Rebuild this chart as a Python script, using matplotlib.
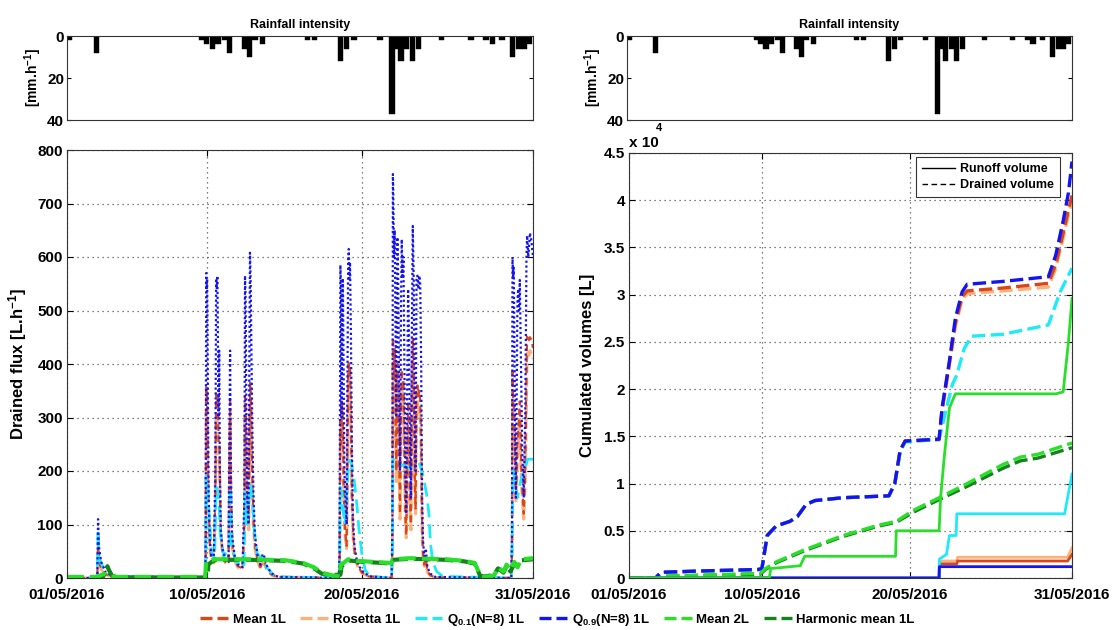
import matplotlib
matplotlib.use("Agg")
import matplotlib.pyplot as plt
from matplotlib.lines import Line2D
import numpy as np

plt.rcParams['font.family'] = ['Liberation Sans', 'DejaVu Sans']
plt.rcParams['font.weight'] = 'bold'
plt.rcParams['mathtext.fontset'] = 'custom'
plt.rcParams['mathtext.rm'] = 'Liberation Sans:bold'
plt.rcParams['mathtext.bf'] = 'Liberation Sans:bold'
plt.rcParams['mathtext.default'] = 'bf'

# ---------------- data ----------------
# rainfall (day of May, mm/h)
rain_day = [1.0, 2.75, 9.53, 9.8, 10.2, 10.56, 10.95, 11.3, 12.24, 12.59, 12.93, 13.4,
            16.3, 16.77, 18.43, 18.84, 19.3, 20.98, 21.76, 22.1, 22.33, 22.7, 23.05,
            23.44, 24.93, 26.84, 27.8, 28.2, 28.84, 29.53, 29.92, 30.26, 30.6]
rain_mm = [2, 8, 2, 4, 6, 4, 2, 8, 6, 10, 2, 4,
           2, 2, 12, 6, 2, 2, 37, 6, 12, 6, 12,
           6, 2, 2, 2, 4, 2, 10, 6, 6, 4]

tick_days = [1, 10, 20, 31]
tick_labels = ['01/05/2016', '10/05/2016', '20/05/2016', '31/05/2016']

# drained flux [L/h] : (day, value)
flux_q09 = [(1.0, 0), (2.95, 0), (3.0, 110), (3.05, 60), (3.2, 30), (3.5, 10), (4.0, 3), (9.9, 1),
            (9.93, 80), (9.96, 570), (9.99, 540), (10.02, 560), (10.05, 450), (10.08, 300), (10.12, 150),
            (10.2, 70), (10.3, 40), (10.45, 35), (10.55, 200), (10.6, 560), (10.64, 540), (10.68, 565),
            (10.72, 420), (10.76, 300), (10.8, 425), (10.84, 200), (10.9, 90), (11.0, 55), (11.2, 35),
            (11.4, 30), (11.45, 250), (11.5, 425), (11.55, 200), (11.62, 80), (11.8, 40), (12.0, 25),
            (12.3, 20), (12.42, 150), (12.46, 565), (12.5, 520), (12.55, 300), (12.6, 150), (12.68, 100),
            (12.74, 400), (12.78, 608), (12.82, 560), (12.86, 450), (12.92, 300), (13.0, 160), (13.1, 80),
            (13.25, 45), (13.45, 25), (13.6, 45), (13.7, 40), (13.9, 20), (14.2, 8), (14.6, 2), (18.5, 0),
            (18.55, 50), (18.6, 585), (18.64, 540), (18.68, 300), (18.72, 480), (18.76, 560), (18.8, 420),
            (18.86, 200), (18.92, 150), (19.0, 100), (19.05, 350), (19.1, 590), (19.14, 615), (19.18, 560),
            (19.22, 590), (19.28, 450), (19.34, 250), (19.4, 120), (19.5, 60), (19.65, 35), (19.85, 20),
            (20.1, 10), (20.5, 3), (21.9, 0),
            (21.95, 100), (21.98, 755), (22.0, 730), (22.05, 600), (22.1, 650), (22.15, 450), (22.2, 300),
            (22.24, 550), (22.27, 637), (22.32, 560), (22.38, 350), (22.44, 200), (22.5, 500), (22.55, 633),
            (22.6, 560), (22.66, 600), (22.72, 400), (22.78, 200), (22.84, 120), (22.9, 350), (22.96, 540),
            (23.02, 450), (23.08, 250), (23.14, 150), (23.2, 450), (23.26, 658), (23.32, 560), (23.38, 300),
            (23.44, 200), (23.5, 560), (23.56, 565), (23.62, 540), (23.68, 565), (23.74, 550), (23.8, 400),
            (23.86, 150), (23.92, 70), (24.0, 40), (24.1, 55), (24.2, 20), (24.4, 8), (24.7, 2), (29.6, 0),
            (29.65, 80), (29.68, 600), (29.72, 560), (29.76, 580), (29.8, 450), (29.85, 250), (29.9, 150),
            (29.95, 350), (30.0, 520), (30.05, 540), (30.1, 500), (30.15, 557), (30.2, 450), (30.3, 250),
            (30.4, 150), (30.5, 300), (30.58, 600), (30.62, 640), (30.7, 600), (30.8, 645), (30.9, 630),
            (31.0, 600)]

flux_mean1 = [(1.0, 0), (2.95, 0), (3.0, 60), (3.1, 25), (3.4, 8), (4.0, 2), (9.9, 0),
              (9.93, 40), (9.96, 360), (9.99, 330), (10.02, 345), (10.06, 250), (10.1, 150), (10.2, 60),
              (10.3, 35), (10.45, 30), (10.55, 150), (10.6, 345), (10.65, 320), (10.7, 340), (10.76, 250),
              (10.82, 250), (10.88, 100), (11.0, 50), (11.2, 30), (11.4, 28), (11.45, 200), (11.5, 330),
              (11.56, 150), (11.65, 60), (11.8, 35), (12.0, 22), (12.3, 18), (12.42, 100), (12.46, 340),
              (12.52, 300), (12.6, 120), (12.7, 100), (12.76, 300), (12.8, 365), (12.85, 330), (12.92, 200),
              (13.0, 110), (13.1, 60), (13.25, 35), (13.45, 20), (13.6, 30), (13.7, 30), (13.9, 15),
              (14.2, 6), (14.6, 2), (18.5, 0),
              (18.55, 30), (18.6, 300), (18.65, 250), (18.7, 330), (18.76, 290), (18.82, 150), (18.9, 90),
              (19.0, 60), (19.05, 200), (19.1, 390), (19.14, 406), (19.18, 380), (19.22, 395), (19.28, 300),
              (19.34, 160), (19.42, 80), (19.55, 40), (19.75, 20), (20.0, 10), (20.4, 3), (21.9, 0),
              (21.95, 60), (21.98, 450), (22.02, 420), (22.06, 380), (22.1, 430), (22.15, 300), (22.2, 200),
              (22.27, 400), (22.32, 350), (22.38, 220), (22.44, 120), (22.5, 300), (22.55, 390), (22.6, 350),
              (22.66, 370), (22.72, 250), (22.78, 120), (22.84, 80), (22.9, 200), (22.96, 330), (23.02, 280),
              (23.08, 150), (23.14, 100), (23.2, 300), (23.26, 450), (23.32, 400), (23.38, 200), (23.44, 130),
              (23.5, 350), (23.56, 360), (23.62, 340), (23.68, 350), (23.74, 330), (23.8, 250), (23.86, 100),
              (23.92, 45), (24.0, 25), (24.1, 35), (24.2, 12), (24.4, 5), (24.7, 1), (29.6, 0),
              (29.65, 50), (29.68, 386), (29.72, 340), (29.8, 300), (29.9, 150), (30.0, 250), (30.1, 300),
              (30.15, 330), (30.25, 200), (30.4, 120), (30.5, 200), (30.58, 380), (30.62, 451), (30.7, 440),
              (30.8, 450), (30.9, 445), (31.0, 430)]

flux_rosetta = [(1.0, 0), (2.95, 0), (3.0, 50), (3.1, 22), (3.4, 7), (4.0, 2), (9.9, 0),
                (9.93, 35), (9.96, 310), (9.99, 290), (10.02, 300), (10.06, 220), (10.1, 130), (10.2, 55),
                (10.3, 32), (10.45, 28), (10.55, 130), (10.6, 300), (10.65, 280), (10.7, 295), (10.76, 220),
                (10.82, 220), (10.88, 90), (11.0, 45), (11.2, 28), (11.4, 25), (11.45, 180), (11.5, 300),
                (11.56, 130), (11.65, 55), (11.8, 32), (12.0, 20), (12.3, 16), (12.42, 90), (12.46, 300),
                (12.52, 270), (12.6, 110), (12.7, 90), (12.76, 270), (12.8, 330), (12.85, 300), (12.92, 180),
                (13.0, 100), (13.1, 55), (13.25, 32), (13.45, 18), (13.6, 27), (13.7, 27), (13.9, 13),
                (14.2, 5), (14.6, 2), (18.5, 0),
                (18.55, 25), (18.6, 270), (18.65, 230), (18.7, 320), (18.76, 270), (18.82, 140), (18.9, 80),
                (19.0, 55), (19.05, 180), (19.1, 360), (19.14, 385), (19.18, 350), (19.22, 370), (19.28, 280),
                (19.34, 150), (19.42, 75), (19.55, 38), (19.75, 18), (20.0, 9), (20.4, 3), (21.9, 0),
                (21.95, 55), (21.98, 400), (22.02, 380), (22.06, 350), (22.1, 390), (22.15, 280), (22.2, 180),
                (22.27, 370), (22.32, 320), (22.38, 200), (22.44, 110), (22.5, 280), (22.55, 360), (22.6, 320),
                (22.66, 340), (22.72, 230), (22.78, 110), (22.84, 75), (22.9, 180), (22.96, 300), (23.02, 260),
                (23.08, 140), (23.14, 90), (23.2, 280), (23.26, 410), (23.32, 370), (23.38, 180), (23.44, 120),
                (23.5, 320), (23.56, 330), (23.62, 310), (23.68, 320), (23.74, 300), (23.8, 230), (23.86, 90),
                (23.92, 40), (24.0, 22), (24.1, 30), (24.2, 11), (24.4, 4), (24.7, 1), (29.6, 0),
                (29.65, 45), (29.68, 330), (29.72, 300), (29.8, 270), (29.9, 140), (30.0, 220), (30.1, 270),
                (30.15, 300), (30.25, 180), (30.4, 110), (30.5, 180), (30.58, 350), (30.62, 420), (30.7, 410),
                (30.8, 425), (30.9, 415), (31.0, 410)]

flux_q01 = [(1.0, 0), (2.95, 0), (3.0, 90), (3.06, 40), (3.2, 28), (3.5, 10), (4.0, 3), (9.9, 0),
            (9.93, 30), (9.96, 190), (10.05, 175), (10.15, 120), (10.3, 50), (10.5, 35), (10.6, 170),
            (10.75, 160), (10.88, 80), (11.1, 40), (11.45, 60), (11.5, 170), (11.6, 60), (11.9, 30),
            (12.4, 20), (12.46, 160), (12.6, 100), (12.78, 175), (12.9, 160), (13.05, 90), (13.25, 45),
            (13.6, 35), (13.9, 18), (14.3, 6), (14.8, 2), (18.5, 0),
            (18.55, 20), (18.6, 170), (18.7, 160), (18.8, 120), (18.9, 100), (19.05, 180), (19.15, 220),
            (19.3, 215), (19.5, 180), (19.65, 140), (19.8, 90), (20.0, 40), (20.2, 15), (20.5, 3), (21.9, 0),
            (21.95, 50), (21.98, 223), (22.1, 218), (22.3, 215), (22.5, 212), (22.7, 210), (22.9, 208),
            (23.1, 205), (23.3, 205), (23.5, 210), (23.7, 213), (23.85, 200), (24.0, 180), (24.15, 157),
            (24.3, 120), (24.4, 64), (24.55, 30), (24.8, 12), (25.2, 3), (29.6, 0),
            (29.65, 50), (29.7, 200), (29.8, 190), (29.9, 170), (30.0, 150), (30.2, 180), (30.4, 200),
            (30.55, 210), (30.65, 222), (31.0, 222)]

flux_mean2 = [(1.0, 2), (2.9, 2), (3.0, 3), (3.4, 8), (3.7, 3), (4.2, 2), (9.9, 2), (9.95, 30),
              (10.2, 32), (10.5, 35), (12.8, 35), (15.1, 33), (16.2, 28), (16.9, 20), (17.4, 10),
              (18.05, 5), (18.55, 3), (18.62, 25), (18.8, 28), (19.1, 35), (19.67, 32), (20.8, 30),
              (21.9, 28), (21.97, 35), (23.1, 37), (25.4, 35), (26.6, 32), (27.25, 28), (27.6, 5),
              (27.95, 2), (28.5, 5), (28.75, 20), (29.1, 12), (29.3, 25), (29.55, 15), (29.8, 30),
              (30.0, 20), (30.25, 35), (31.0, 37)]

flux_harm = [(1.0, 1), (3.3, 1), (3.45, 10), (3.6, 22), (3.7, 15), (3.9, 4), (4.3, 1), (10.05, 1),
             (10.1, 25), (10.3, 30), (10.6, 34), (12.8, 34), (15.1, 32), (16.2, 27), (16.9, 18),
             (17.4, 8), (18.05, 6), (18.6, 6), (18.68, 22), (18.9, 28), (19.1, 33), (19.67, 31),
             (20.8, 29), (21.9, 27), (22.0, 34), (23.1, 36), (25.4, 34), (26.6, 31), (27.25, 27),
             (27.6, 4), (27.95, 3), (28.5, 6), (28.75, 18), (29.1, 10), (29.3, 22), (29.55, 12),
             (29.8, 27), (30.0, 22), (30.25, 33), (31.0, 35)]

# cumulated volumes [x 1e4 L] : drained (dashed)
vol_drain_q09 = [(1.0, 0), (2.8, 0), (3.16, 0.06), (6.0, 0.075), (9.76, 0.09), (10.0, 0.1), (10.36, 0.45),
                 (10.96, 0.55), (11.9, 0.6), (12.4, 0.65), (13.0, 0.78), (13.6, 0.82), (15.5, 0.85),
                 (18.6, 0.87), (19.0, 1.0), (19.36, 1.35), (19.7, 1.45), (22.0, 1.47), (22.2, 1.8),
                 (22.6, 2.2), (22.7, 2.3), (23.1, 2.75), (23.56, 3.03), (23.9, 3.11), (26.3, 3.14),
                 (29.4, 3.19), (29.9, 3.42), (30.4, 3.78), (30.76, 4.08), (31.0, 4.41)]
vol_drain_mean1 = [(1.0, 0), (2.8, 0), (3.16, 0.06), (6.0, 0.075), (9.76, 0.09), (10.0, 0.1), (10.36, 0.45),
                   (10.96, 0.55), (11.9, 0.6), (12.4, 0.65), (13.0, 0.78), (13.6, 0.82), (15.5, 0.85),
                   (18.6, 0.87), (19.0, 1.0), (19.36, 1.35), (19.7, 1.45), (22.0, 1.47), (22.2, 1.78),
                   (22.6, 2.18), (22.7, 2.28), (23.1, 2.7), (23.56, 2.98), (23.9, 3.04), (26.3, 3.07),
                   (29.4, 3.12), (29.9, 3.32), (30.4, 3.65), (30.76, 3.9), (31.0, 4.05)]
vol_drain_rosetta = [(1.0, 0), (2.8, 0), (3.16, 0.06), (6.0, 0.075), (9.76, 0.09), (10.0, 0.1), (10.36, 0.45),
                     (10.96, 0.55), (11.9, 0.6), (12.4, 0.65), (13.0, 0.78), (13.6, 0.82), (15.5, 0.85),
                     (18.6, 0.87), (19.0, 1.0), (19.36, 1.35), (19.7, 1.45), (22.0, 1.46), (22.2, 1.76),
                     (22.6, 2.15), (22.7, 2.25), (23.1, 2.66), (23.56, 2.95), (23.9, 3.01), (26.3, 3.04),
                     (29.4, 3.08), (29.9, 3.28), (30.4, 3.6), (30.76, 3.85), (31.0, 3.98)]
vol_drain_q01 = [(1.0, 0), (2.8, 0), (3.16, 0.06), (6.0, 0.075), (9.76, 0.09), (10.0, 0.1), (10.36, 0.45),
                 (10.96, 0.55), (11.9, 0.6), (12.4, 0.65), (13.0, 0.78), (13.6, 0.82), (15.5, 0.85),
                 (18.6, 0.87), (19.0, 1.0), (19.36, 1.33), (19.7, 1.44), (22.0, 1.47), (22.5, 1.8),
                 (22.9, 2.05), (23.2, 2.15), (23.7, 2.43), (24.2, 2.56), (26.3, 2.58), (29.4, 2.68),
                 (30.2, 3.03), (31.0, 3.28)]
vol_drain_mean2 = [(1.0, 0), (3.0, 0), (3.5, 0.02), (9.9, 0.05), (10.24, 0.1), (10.96, 0.17), (12.9, 0.3),
                   (15.5, 0.45), (17.9, 0.56), (19.1, 0.6), (20.3, 0.72), (22.0, 0.85), (23.9, 1.0),
                   (26.3, 1.2), (27.5, 1.28), (28.7, 1.31), (31.0, 1.43)]
vol_drain_harm = [(1.0, 0), (3.0, 0), (3.5, 0.02), (9.9, 0.04), (10.24, 0.09), (10.96, 0.16), (12.9, 0.29),
                  (15.5, 0.44), (17.9, 0.55), (19.1, 0.59), (20.3, 0.7), (22.0, 0.83), (23.9, 0.97),
                  (26.3, 1.16), (27.5, 1.24), (28.7, 1.27), (31.0, 1.38)]

# cumulated volumes [x 1e4 L] : runoff (solid)
vol_run_mean2 = [(1.0, 0), (10.5, 0), (10.6, 0.1), (12.6, 0.13), (12.9, 0.23), (19.05, 0.23), (19.1, 0.5),
                 (22.0, 0.5), (22.1, 0.85), (22.36, 1.3), (22.7, 1.8), (23.1, 1.95), (29.9, 1.95),
                 (30.4, 1.97), (30.76, 2.5), (31.0, 2.96)]
vol_run_q01 = [(1.0, 0), (22.0, 0), (22.02, 0.2), (22.5, 0.25), (22.7, 0.45), (23.15, 0.45), (23.2, 0.68),
               (30.5, 0.68), (31.0, 1.1)]
vol_run_rosetta = [(1.0, 0), (22.0, 0), (22.02, 0.18), (23.2, 0.18), (23.25, 0.22), (30.7, 0.22), (31.0, 0.32)]
vol_run_mean1 = [(1.0, 0), (22.0, 0), (22.02, 0.15), (23.2, 0.15), (23.25, 0.18), (30.7, 0.18), (31.0, 0.25)]
vol_run_q09 = [(1.0, 0), (22.0, 0), (22.02, 0.12), (31.0, 0.12)]

names = ['Mean 1L', 'Rosetta 1L', r'Q$_{0.1}$(N=8) 1L', r'Q$_{0.9}$(N=8) 1L', 'Mean 2L', 'Harmonic mean 1L']
colors = ['#D9461A', '#F9B27C', '#20EAF8', '#1414F0', '#2ADF2A', '#14831A']

# ---------------- layout ----------------
W, H = 1115, 630
fig = plt.figure(figsize=(W / 100, H / 100), dpi=100)

def fax(x0, y0, x1, y1):
    return fig.add_axes([x0 / W, 1 - y1 / H, (x1 - x0) / W, (y1 - y0) / H])

axr1 = fax(67, 36, 533, 120)
axr2 = fax(627, 36, 1072, 120)
ax1 = fax(67, 150, 533, 578)
ax2 = fax(629, 153, 1072, 578)

# rainfall panels
for ax in (axr1, axr2):
    ax.bar(rain_day, rain_mm, width=0.34, align='edge', color='black', edgecolor='black', linewidth=0.3)
    ax.set_xlim(1, 31)
    ax.set_ylim(40, 0)
    ax.set_yticks([0, 20, 40])
    ax.set_xticks([])
    ax.tick_params(axis='y', direction='in', right=True, labelsize=11, length=3, pad=2)
    ax.set_title('Rainfall intensity', fontsize=9, fontweight='bold', pad=6)
    ax.set_ylabel('[mm.h$^{-1}$]', fontsize=10, fontweight='bold', labelpad=2)
    for s in ax.spines.values():
        s.set_color('#333333')

def xy(pairs):
    a = np.array(pairs, dtype=float)
    return a[:, 0], a[:, 1]

# left main panel
styles_flux = [
    (flux_rosetta, colors[1], (0, (3, 1.5)), 2.2),
    (flux_mean1, colors[0], (0, (3, 2)), 1.6),
    (flux_q01, colors[2], (0, (5, 2.5)), 2.0),
    (flux_q09, colors[3], (0, (1, 1.2)), 1.6),
    (flux_harm, colors[5], (0, (4, 1.5)), 3.0),
    (flux_mean2, colors[4], (0, (4, 1.5)), 3.0),
]
for data, c, ls, lw in styles_flux:
    t, v = xy(data)
    ax1.plot(t, v, color=c, linestyle=ls, linewidth=lw)
ax1.set_xlim(1, 31)
ax1.set_ylim(0, 800)
ax1.set_yticks(range(0, 801, 100))
ax1.set_ylabel('Drained flux [L.h$^{-1}$]', fontsize=12, fontweight='bold', labelpad=6)

# right main panel
for data, c in [(vol_drain_rosetta, colors[1]), (vol_drain_mean1, colors[0]), (vol_drain_q01, colors[2]),
                (vol_drain_q09, colors[3]), (vol_drain_harm, colors[5]), (vol_drain_mean2, colors[4])]:
    t, v = xy(data)
    ax2.plot(t, v, color=c, linestyle=(0, (4, 1.6)), linewidth=2.4)
for data, c in [(vol_run_rosetta, colors[1]), (vol_run_mean1, colors[0]), (vol_run_q01, colors[2]),
                (vol_run_q09, colors[3]), (vol_run_mean2, colors[4])]:
    t, v = xy(data)
    ax2.plot(t, v, color=c, linestyle='-', linewidth=2.0)
ax2.set_xlim(1, 31)
ax2.set_ylim(0, 4.5)
ax2.set_yticks(np.arange(0, 4.51, 0.5))
ax2.set_yticklabels(['0', '0.5', '1', '1.5', '2', '2.5', '3', '3.5', '4', '4.5'])
ax2.set_ylabel('Cumulated volumes [L]', fontsize=12, fontweight='bold', labelpad=6)
fig.text(629 / W, 1 - 143 / H, 'x 10', fontsize=11, fontweight='bold', va='center', ha='left')
fig.text(656 / W, 1 - 128 / H, '4', fontsize=8, fontweight='bold', va='center', ha='left')

leg2 = ax2.legend([Line2D([0], [0], color='k', lw=1.0), Line2D([0], [0], color='k', lw=1.0, ls=(0, (4, 2.5)))],
                  ['Runoff volume', 'Drained volume'], loc='upper right',
                  bbox_to_anchor=(1 - 12 / 443, 1 - 4 / 425), borderaxespad=0,
                  prop={'weight': 'bold', 'size': 9}, frameon=True, fancybox=False,
                  edgecolor='black', handlelength=2.6, labelspacing=0.3, borderpad=0.5,
                  handletextpad=0.4)
leg2.get_frame().set_linewidth(0.8)

for ax in (ax1, ax2):
    ax.set_xticks(tick_days)
    ax.set_xticklabels(tick_labels)
    ax.tick_params(direction='in', top=True, right=True, labelsize=11, length=4, pad=3)
    ax.tick_params(axis='x', pad=7)
    ax.grid(True, linestyle=(0, (1, 3)), color='#555555', linewidth=0.9)
    for s in ax.spines.values():
        s.set_color('#333333')
for lab in ax1.get_xticklabels() + ax1.get_yticklabels() + ax2.get_xticklabels() + ax2.get_yticklabels():
    lab.set_fontweight('bold')

# bottom legend
handles = [Line2D([0], [0], color=c, lw=2.4, ls=(0, (3.6, 1.5))) for c in colors]
fig.legend(handles, names, loc='center', bbox_to_anchor=(0.5, 1 - 620 / H), ncol=6, frameon=False,
           prop={'weight': 'bold', 'size': 9.5}, handlelength=2.1, columnspacing=1.1, handletextpad=0.35,
           borderpad=0.1)

fig.savefig('out.png', dpi=100)
